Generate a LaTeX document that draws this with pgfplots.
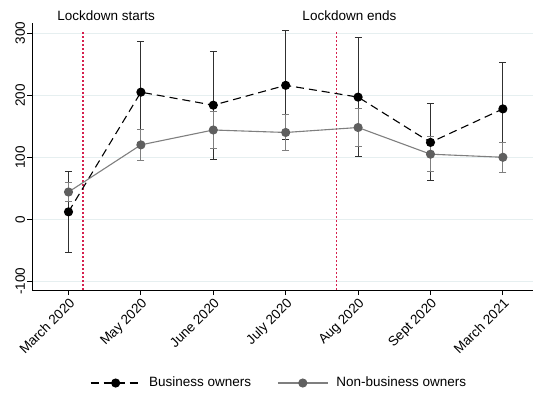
\documentclass[border=0pt]{standalone}
\usepackage{pgfplots}
\pgfplotsset{compat=1.18}
\usepackage{fontspec}
\setmainfont{Liberation Sans}
\definecolor{gridc}{HTML}{E6EFF0}
\definecolor{redl}{HTML}{D6204E}
\definecolor{grayd}{HTML}{5F5F5F}
\definecolor{grayl}{HTML}{7F7F7F}
\definecolor{barb}{HTML}{303030}
\begin{document}
\fontsize{13.5bp}{16bp}\selectfont
\begin{tikzpicture}
\useasboundingbox (-32.3bp,-103bp) rectangle (500.7bp,290bp);
\begin{axis}[
 scale only axis, width=500.7bp, height=267.3bp,
 xmin=0.5, xmax=7.416, ymin=-114, ymax=317,
 axis lines*=left, axis line style={black, line width=0.8bp, -},
 xtick={1,2,3,4,5,6,7},
 xticklabels={March 2020, May 2020, June 2020, July 2020, Aug 2020, Sept 2020, March 2021},
 ytick={-100,0,100,200,300},
 /pgf/number format/assume math mode=true,
 every tick label/.append style={font=\fontsize{13.5bp}{16bp}\selectfont},
 xticklabel style={rotate=45, anchor=north east, inner sep=1.5bp},
 yticklabel style={rotate=90, anchor=south, inner sep=2bp},
 ymajorgrids, grid style={gridc, line width=0.8bp},
 tick align=outside, major tick length=5bp, tick style={black, line width=0.8bp},
 clip=false,
 legend style={at={(0.493,-0.348)}, anchor=center, draw=none, fill=none,
   legend columns=2, font=\fontsize{13.5bp}{16bp}\selectfont,
   /tikz/every odd column/.append style={column sep=6bp},
   /tikz/every even column/.append style={column sep=24bp}},
 legend cell align=left,
 legend image code/.code={\draw[#1, mark repeat=2, mark phase=2] plot coordinates {(0bp,0bp) (25bp,0bp) (50bp,0bp)};},
]
\draw[redl, line width=1.2bp, dash pattern=on 2bp off 2bp] (axis cs:1.2,-114) -- (axis cs:1.2,302);
\draw[redl, line width=1.2bp, dash pattern=on 2bp off 2bp] (axis cs:4.707,-114) -- (axis cs:4.707,302);
\node[font=\fontsize{13.5bp}{16bp}\selectfont] at (axis cs:1.52,329) {Lockdown starts};
\node[font=\fontsize{13.5bp}{16bp}\selectfont] at (axis cs:4.88,329) {Lockdown ends};
% CI bars, business owners
\addplot[forget plot, only marks, mark=none, barb,
  error bars/.cd, y dir=both, y explicit,
  error bar style={barb, line width=1.1bp},
  error mark options={barb, line width=1.1bp, mark size=3.5bp, rotate=90}]
 table[x=x, y=y, y error=e] {
 x y e
 1 12 65
 2 205 81
 3 184 87
 4 216 88
 5 197 96
 6 124 62
 7 178 75
};
% CI bars, non-business owners
\addplot[forget plot, only marks, mark=none, grayl,
  error bars/.cd, y dir=both, y explicit,
  error bar style={grayl, line width=1.1bp},
  error mark options={grayl, line width=1.1bp, mark size=3.5bp, rotate=90}]
 table[x=x, y=y, y error=e] {
 x y e
 1 44 16
 2 120 25
 3 144 30
 4 140 29
 5 148 30
 6 105 28
 7 100 24
};
\addplot[black, line width=1.1bp, dash pattern=on 8bp off 5bp, mark=*, mark size=4bp,
  mark options={solid, fill=black, draw=black}]
 table[x=x, y=y] {
 x y
 1 12
 2 205
 3 184
 4 216
 5 197
 6 124
 7 178
};
\addlegendentry{Business owners}
\addplot[grayl, line width=1.1bp, mark=*, mark size=4bp,
  mark options={solid, fill=grayd, draw=grayd}]
 table[x=x, y=y] {
 x y
 1 44
 2 120
 3 144
 4 140
 5 148
 6 105
 7 100
};
\addlegendentry{Non-business owners}
\end{axis}
\end{tikzpicture}
\end{document}
